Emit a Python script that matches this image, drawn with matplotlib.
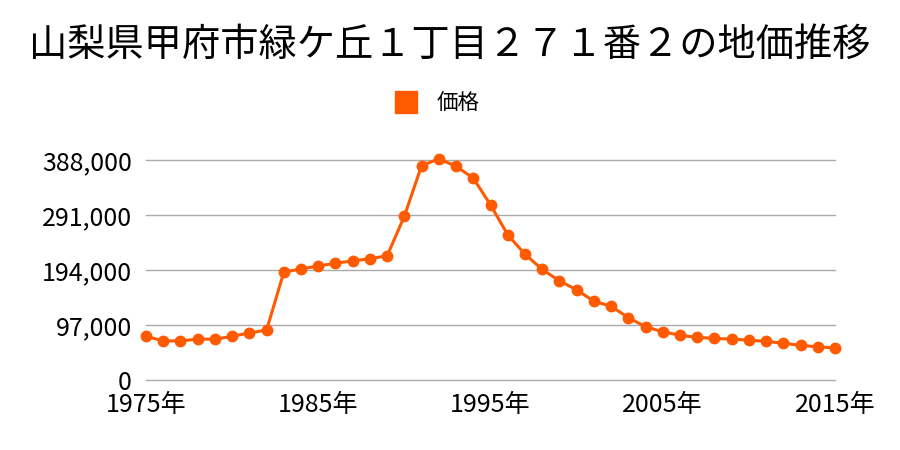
import numpy as np
import matplotlib
matplotlib.use('Agg')
import matplotlib.pyplot as plt

plt.rcParams['font.family'] = ['Noto Sans CJK JP', 'DejaVu Sans']

title = '山梨県甲府市緑ケ丘１丁目２７１番２の地価推移'
series_name = '価格'
years = list(range(1975, 2016))
prices = [77000, 69000, 69000, 72000, 72000, 77000, 83000, 88000, 190000, 196000,
          201000, 206000, 210000, 214000, 219000, 289000, 378000, 390000, 377000, 356000,
          309000, 256000, 222000, 195000, 175000, 159000, 139000, 130000, 110000, 94000,
          85000, 79000, 75000, 73500, 72000, 70500, 68000, 65000, 61000, 58700, 56400]
yticks = [0, 97000, 194000, 291000, 388000]
xticks = [1975, 1985, 1995, 2005, 2015]

color = '#ff5a00'

fig = plt.figure(figsize=(9, 4.5), dpi=100)
ax = fig.add_axes([146/900, 70/450, (835-146)/900, 220/450])

ax.plot(years, prices, color=color, lw=2.2, marker='o', ms=7.5, clip_on=False,
        zorder=3, label=series_name)

ax.set_xlim(1975, 2015)
ax.set_ylim(0, 388000)
ax.set_yticks(yticks)
ax.set_yticklabels([f'{v:,}' for v in yticks])
ax.set_xticks(xticks)
ax.set_xticklabels([f'{y}年' for y in xticks])
ax.tick_params(length=0, labelsize=18, pad=10)
ax.tick_params(axis='x', pad=9)
ax.grid(axis='y', color='#aaaaaa', lw=1)
for gl in ax.get_ygridlines():
    gl.set_clip_on(False)
for s in ax.spines.values():
    s.set_visible(False)

fig.text(0.5, 0.9, title, ha='center', va='center', fontsize=27.5)

h = plt.Line2D([], [], color=color, marker='s', ls='none', ms=16.5)
fig.legend([h], [series_name], loc='center', bbox_to_anchor=(0.48, 0.771),
           frameon=False, fontsize=15.5, handletextpad=0.4)

plt.savefig('out.png', dpi=100)
